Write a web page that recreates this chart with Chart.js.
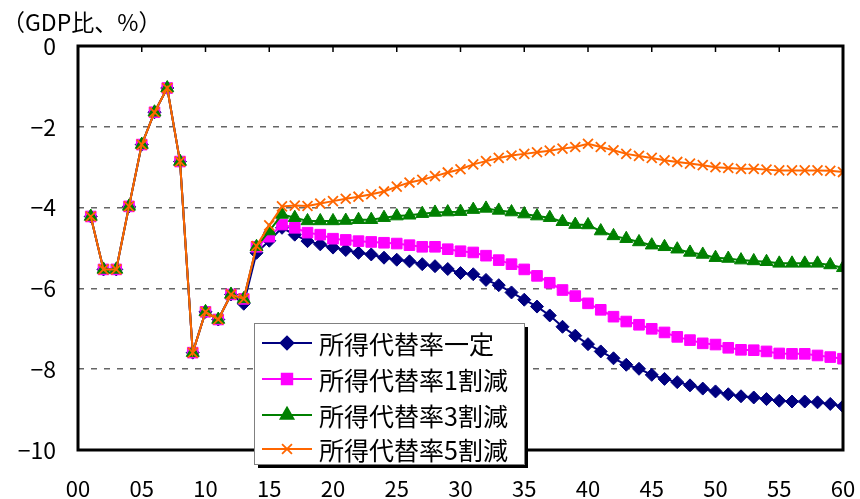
<!DOCTYPE html>
<html lang="ja">
<head>
  <meta charset="UTF-8" />
  <title>GDP比</title>
  <script src="https://cdn.jsdelivr.net/npm/chart.js"></script>
  <style>
    html, body { margin: 0; padding: 0; background: #fff; }
    #wrap { width: 860px; height: 499px; position: relative; }
  </style>
</head>
<body>
  <div id="wrap"><canvas id="chart" width="860" height="499"></canvas></div>

  <script>
    // years 2001..2060 (shown as 00..60 on the axis)
    const years = [];
    for (let y = 1; y <= 60; y++) years.push(y);

    const xTicks = [0, 5, 10, 15, 20, 25, 30, 35, 40, 45, 50, 55, 60];
    const yTicks = [0, -2, -4, -6, -8, -10];
    const unitLabel = '（GDP比、%）';

    const seriesNames = ['所得代替率一定', '所得代替率1割減', '所得代替率3割減', '所得代替率5割減'];

    const constRate = [
      -4.22, -5.53, -5.53, -3.97, -2.44, -1.64, -1.04, -2.86, -7.59, -6.58,
      -6.77, -6.15, -6.38, -5.12, -4.82, -4.50, -4.67, -4.83, -4.91, -4.99,
      -5.05, -5.12, -5.16, -5.24, -5.29, -5.33, -5.40, -5.45, -5.52, -5.62,
      -5.65, -5.79, -5.92, -6.10, -6.28, -6.45, -6.67, -6.95, -7.17, -7.38,
      -7.56, -7.73, -7.89, -7.99, -8.14, -8.24, -8.32, -8.40, -8.48, -8.55,
      -8.62, -8.67, -8.70, -8.74, -8.78, -8.80, -8.80, -8.82, -8.86, -8.92
    ];
    const cut10 = [
      -4.22, -5.53, -5.53, -3.97, -2.44, -1.64, -1.04, -2.86, -7.59, -6.58,
      -6.77, -6.15, -6.26, -4.97, -4.72, -4.42, -4.50, -4.62, -4.67, -4.77,
      -4.80, -4.83, -4.85, -4.87, -4.89, -4.93, -4.97, -4.97, -5.03, -5.08,
      -5.11, -5.19, -5.30, -5.40, -5.53, -5.69, -5.86, -6.04, -6.19, -6.37,
      -6.53, -6.70, -6.82, -6.90, -7.00, -7.09, -7.20, -7.28, -7.36, -7.39,
      -7.47, -7.52, -7.53, -7.56, -7.61, -7.62, -7.62, -7.66, -7.70, -7.74
    ];
    const cut30 = [
      -4.22, -5.53, -5.53, -3.97, -2.44, -1.64, -1.04, -2.86, -7.59, -6.58,
      -6.77, -6.15, -6.26, -4.97, -4.58, -4.17, -4.25, -4.33, -4.33, -4.33,
      -4.32, -4.30, -4.30, -4.25, -4.21, -4.19, -4.15, -4.12, -4.11, -4.10,
      -4.05, -4.02, -4.07, -4.11, -4.16, -4.21, -4.25, -4.35, -4.42, -4.43,
      -4.58, -4.70, -4.77, -4.85, -4.93, -4.97, -5.03, -5.11, -5.16, -5.24,
      -5.26, -5.30, -5.32, -5.34, -5.38, -5.38, -5.38, -5.38, -5.42, -5.49
    ];
    const cut50 = [
      -4.22, -5.53, -5.53, -3.97, -2.44, -1.64, -1.04, -2.86, -7.59, -6.58,
      -6.77, -6.15, -6.26, -4.95, -4.44, -3.97, -3.95, -3.96, -3.90, -3.84,
      -3.78, -3.73, -3.67, -3.60, -3.48, -3.38, -3.31, -3.22, -3.13, -3.05,
      -2.93, -2.85, -2.77, -2.71, -2.67, -2.63, -2.59, -2.54, -2.50, -2.42,
      -2.50, -2.58, -2.67, -2.72, -2.77, -2.83, -2.87, -2.91, -2.95, -3.00,
      -3.02, -3.04, -3.04, -3.06, -3.08, -3.08, -3.08, -3.08, -3.09, -3.12
    ];

    const colors = ['#000080', '#ff00ff', '#008000', '#ff6600'];
    const styles = ['rectRot', 'rect', 'triangle', 'crossRot'];
    const radii = [6.5, 7.5, 7.5, 7];
    const allSeries = [constRate, cut10, cut30, cut50];

    const FONT = '"Noto Sans CJK JP", "Noto Sans", sans-serif';

    const datasets = allSeries.map((vals, i) => ({
      label: seriesNames[i],
      data: years.map((yr, k) => ({ x: yr, y: vals[k] })),
      borderColor: colors[i],
      backgroundColor: colors[i],
      borderWidth: 2,
      pointStyle: styles[i],
      pointRadius: radii[i],
      pointHoverRadius: radii[i],
      pointBorderWidth: i === 3 ? 1.8 : 1,
      pointBorderColor: colors[i],
      pointBackgroundColor: colors[i],
      tension: 0,
      order: 3 - i
    }));

    // frame, inner ticks on the top edge, unit label and boxed legend
    const decor = {
      id: 'decor',
      afterDatasetsDraw(chart) {
        const { ctx, chartArea: a, scales } = chart;
        ctx.save();
        ctx.strokeStyle = '#000';
        ctx.lineWidth = 3;
        ctx.strokeRect(a.left, a.top, a.right - a.left, a.bottom - a.top);
        ctx.lineWidth = 1.5;
        xTicks.slice(1, -1).forEach(v => {
          const px = scales.x.getPixelForValue(v);
          ctx.beginPath();
          ctx.moveTo(px, a.top);
          ctx.lineTo(px, a.top + 6);
          ctx.stroke();
        });

        ctx.fillStyle = '#000';
        ctx.font = '23px ' + FONT;
        ctx.textBaseline = 'middle';
        ctx.textAlign = 'left';
        ctx.fillText(unitLabel, 2, 22);

        // legend box
        const lx = 254, ly = 323, lw = 270, lh = 141;
        ctx.fillStyle = '#000';
        ctx.fillRect(lx + 4, ly + 4, lw, lh);
        ctx.fillStyle = '#fff';
        ctx.fillRect(lx, ly, lw, lh);
        ctx.strokeStyle = '#808080';
        ctx.lineWidth = 1;
        ctx.strokeRect(lx + 0.5, ly + 0.5, lw, lh);
        const rows = [343, 379, 415, 449];
        seriesNames.forEach((name, i) => {
          const ry = rows[i];
          ctx.strokeStyle = colors[i];
          ctx.fillStyle = colors[i];
          ctx.lineWidth = 1.8;
          ctx.beginPath();
          ctx.moveTo(262, ry);
          ctx.lineTo(312, ry);
          ctx.stroke();
          Chart.helpers.drawPoint(ctx, {
            pointStyle: styles[i], radius: radii[i], rotation: 0,
            borderWidth: i === 3 ? 1.8 : 1
          }, 287, ry);
          ctx.fillStyle = '#000';
          ctx.font = '25px ' + FONT;
          ctx.textAlign = 'left';
          ctx.textBaseline = 'middle';
          ctx.fillText(name, 319, ry + 1);
        });
        ctx.restore();
      }
    };

    new Chart(document.getElementById('chart'), {
      type: 'line',
      data: { datasets },
      options: {
        responsive: false,
        animation: false,
        layout: { padding: { top: 46, right: 17, left: 0, bottom: 0 } },
        plugins: { legend: { display: false }, tooltip: { enabled: false } },
        scales: {
          x: {
            type: 'linear',
            min: 0,
            max: 60,
            afterFit: s => { s.height = 49; s.paddingLeft = 0; s.paddingRight = 0; },
            afterBuildTicks: s => { s.ticks = xTicks.map(v => ({ value: v })); },
            grid: { display: false },
            border: { display: false },
            ticks: {
              color: '#000',
              padding: 17,
              maxRotation: 0,
              font: { family: FONT, size: 22 },
              callback: v => String(v).padStart(2, '0')
            }
          },
          y: {
            min: -10,
            max: 0,
            afterFit: s => { s.width = 78; s.paddingTop = 0; s.paddingBottom = 0; },
            afterBuildTicks: s => { s.ticks = yTicks.map(v => ({ value: v })); },
            border: { display: false, dash: [6, 7] },
            grid: {
              color: ctx => (ctx.tick && (ctx.tick.value === 0 || ctx.tick.value === -10)) ? 'rgba(0,0,0,0)' : '#666666',
              lineWidth: 1.5,
              drawTicks: false
            },
            ticks: {
              color: '#000',
              padding: 22,
              font: { family: FONT, size: 23 },
              callback: v => v === 0 ? '0' : '\u2212' + Math.abs(v)
            }
          }
        }
      },
      plugins: [decor]
    });
  </script>
</body>
</html>
